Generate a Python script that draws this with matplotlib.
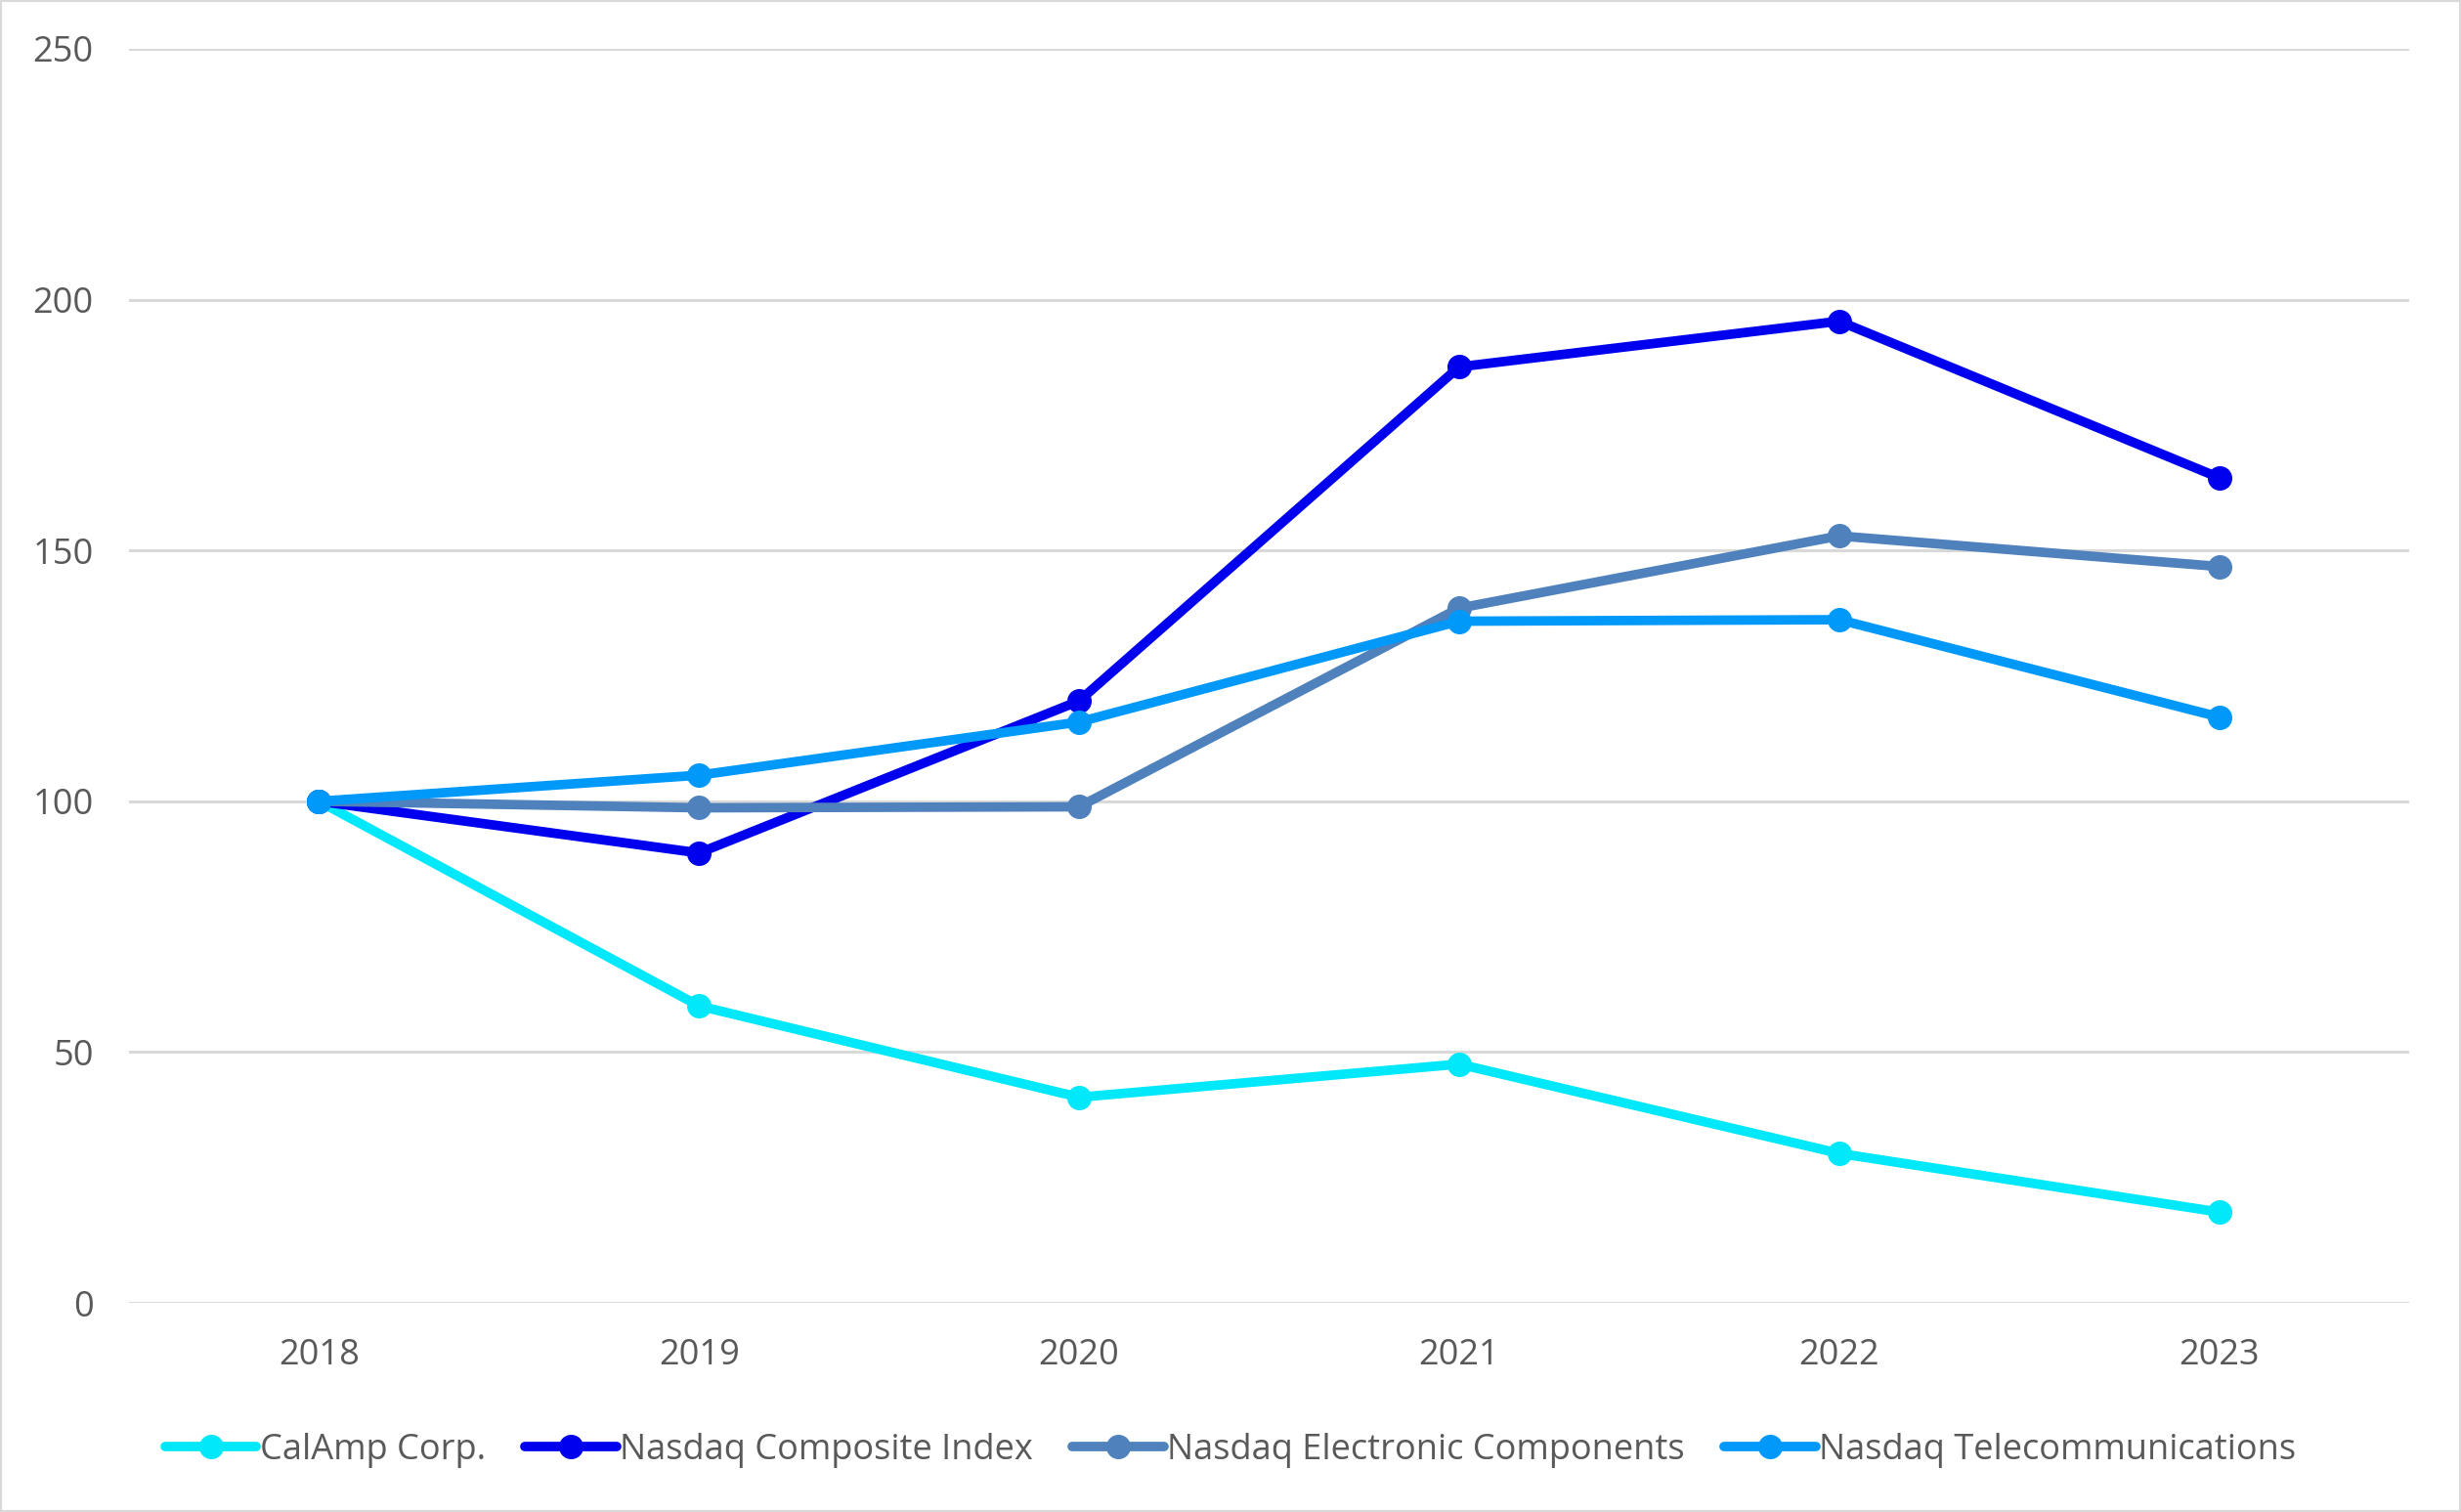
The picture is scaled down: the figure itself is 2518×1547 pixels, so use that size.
import numpy as np
import matplotlib
matplotlib.use("Agg")
import matplotlib.pyplot as plt
from matplotlib.patches import Rectangle

years = ["2018", "2019", "2020", "2021", "2022", "2023"]

calamp = [100, 59.2, 41.0, 47.6, 29.8, 18.1]
nasdaq_composite = [100, 89.7, 120.0, 186.6, 195.7, 164.5]
nasdaq_electronic = [100, 98.7, 98.9, 138.5, 152.9, 146.8]
nasdaq_telecom = [100, 105.2, 115.8, 135.9, 136.2, 116.8]

series = [
    ("CalAmp Corp.", calamp, "#00E8FA"),
    ("Nasdaq Composite Index", nasdaq_composite, "#0000EE"),
    ("Nasdaq Electronic Components", nasdaq_electronic, "#4F81BD"),
    ("Nasdaq Telecommunications", nasdaq_telecom, "#0099FA"),
]

plt.rcParams['font.family'] = ['Open Sans', 'DejaVu Sans']

fig = plt.figure(figsize=(25.18, 15.47), dpi=100)
ax = fig.add_axes([0.0524, 0.1383, 0.9266, 0.8294])

x = np.arange(len(years))
for name, vals, color in series:
    ax.plot(x, vals, color=color, lw=7, marker="o", markersize=17,
            label=name, solid_capstyle="round", zorder=3)

ax.set_xlim(-0.5, len(years) - 0.5)
ax.set_ylim(0, 250)
ax.set_yticks(np.arange(0, 251, 50))
ax.set_xticks(x)
ax.set_xticklabels(years)
ax.yaxis.grid(True, color="#D9D9D9", lw=2.2, zorder=0)
ax.set_axisbelow(True)
for s in ax.spines.values():
    s.set_visible(False)
ax.tick_params(axis="both", length=0, labelsize=26, labelcolor="#595959")
ax.tick_params(axis="y", pad=26)
ax.tick_params(axis="x", pad=26)

leg = fig.legend(loc="center", bbox_to_anchor=(0.5, 0.041), ncol=4, frameon=False,
                 fontsize=26, handlelength=2.6, handletextpad=0.1, columnspacing=1.1,
                 labelcolor="#595959")

fig.patches.append(Rectangle((0, 0), 1, 1, transform=fig.transFigure, fill=False,
                             edgecolor="#D9D9D9", lw=3))

fig.savefig("out.png", dpi=100)
